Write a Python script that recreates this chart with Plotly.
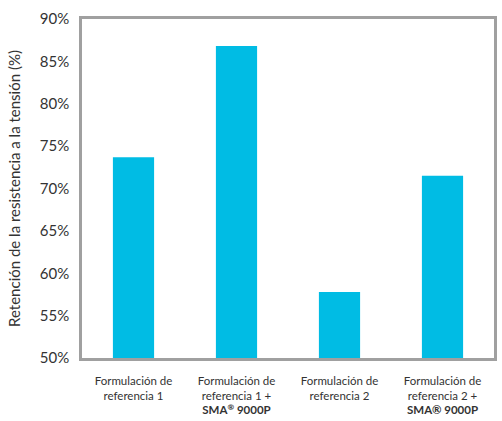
import plotly.graph_objects as go

categories = [
    "Formulación de<br>referencia 1",
    "Formulación de<br>referencia 1 +<br><b>SMA<sup>®</sup> 9000P</b>",
    "Formulación de<br>referencia 2",
    "Formulación de<br>referencia 2 +<br><b>SMA® 9000P</b>",
]
values = [0.737, 0.868, 0.578, 0.715]
ytick_vals = [0.50, 0.55, 0.60, 0.65, 0.70, 0.75, 0.80, 0.85, 0.90]
ytick_text = ["50%", "55%", "60%", "65%", "70%", "75%", "80%", "85%", "90%"]

fig = go.Figure(
    go.Bar(x=categories, y=values, marker=dict(color="#00bce4", line=dict(width=0)))
)
fig.update_layout(
    width=502, height=421,
    margin=dict(l=82, r=5, t=19, b=62),
    paper_bgcolor="white", plot_bgcolor="white",
    bargap=0.6,
    showlegend=False,
    font=dict(family="Lato, Open Sans, sans-serif", color="#333333"),
)
fig.update_xaxes(
    showline=True, mirror=True, linecolor="#a0a0a0", linewidth=2.5,
    showgrid=False, ticks="", ticklabelstandoff=10,
    tickfont=dict(size=11.5, color="#333333"),
)
fig.update_yaxes(
    range=[0.5, 0.9], tickvals=ytick_vals, ticktext=ytick_text,
    showline=True, mirror=True, linecolor="#a0a0a0", linewidth=2.5,
    showgrid=False, zeroline=False, ticks="", ticklen=0, ticklabelstandoff=7,
    tickfont=dict(size=15, color="#333333"),
    title=dict(text="Retención de la resistencia a la tensión (%)", font=dict(size=15, color="#333333"), standoff=16),
)
fig.write_html("out.html")
